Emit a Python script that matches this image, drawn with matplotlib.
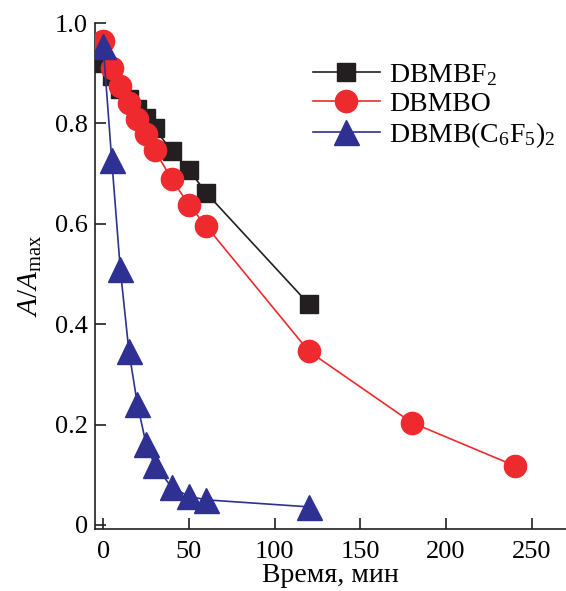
import matplotlib.pyplot as plt

plt.rcParams['font.family'] = ['Liberation Serif', 'DejaVu Serif']
plt.rcParams['mathtext.fontset'] = 'custom'
plt.rcParams['mathtext.rm'] = 'Liberation Serif'
plt.rcParams['mathtext.it'] = 'Liberation Serif:italic'

# kinetics of photobleaching, time in minutes
t_bf2 = [0, 5, 10, 15, 20, 25, 30, 40, 50, 60, 120]
a_bf2 = [0.92, 0.895, 0.868, 0.848, 0.828, 0.81, 0.79, 0.745, 0.708, 0.662, 0.44]

t_bo = [0, 5, 10, 15, 20, 25, 30, 40, 50, 60, 120, 180, 240]
a_bo = [0.964, 0.91, 0.874, 0.84, 0.808, 0.778, 0.747, 0.689, 0.638, 0.596, 0.346, 0.204, 0.118]

t_c6f5 = [0, 5, 10, 15, 20, 25, 30, 40, 50, 60, 120]
a_c6f5 = [0.955, 0.728, 0.51, 0.347, 0.24, 0.162, 0.12, 0.075, 0.057, 0.05, 0.036]

labels = ['DBMBF$_2$', 'DBMBO', 'DBMB(C$_6$F$_5$)$_2$']

fig = plt.figure(figsize=(5.66, 5.91), dpi=100)
ax = fig.add_axes([0.168, 0.105, 0.832, 0.856])

ax.plot(t_bf2, a_bf2, color='#231f20', lw=1.2, marker='s', ms=13,
        label=labels[0], zorder=2)
ax.plot(t_bo, a_bo, color='#ee2a2e', lw=1.2, marker='o', ms=16,
        label=labels[1], zorder=3)
ax.plot(t_c6f5, a_c6f5, color='#2e3192', lw=1.2, marker='^', ms=18,
        label=labels[2], zorder=4)

ax.set_xlim(-4.7, 270)
ax.set_ylim(-0.008, 1.0)
ax.set_xticks([0, 50, 100, 150, 200, 250])
ax.set_yticks([0, 0.2, 0.4, 0.6, 0.8, 1.0])
ax.set_yticklabels(['0', '0.2', '0.4', '0.6', '0.8', '1.0'])
ax.tick_params(direction='in', length=8, width=1.2, labelsize=19, color='#231f20')
ax.tick_params(axis='x', pad=9)
ax.tick_params(axis='y', pad=5)

ax.spines['top'].set_visible(False)
ax.spines['right'].set_visible(False)
for s in ('left', 'bottom'):
    ax.spines[s].set_linewidth(1.2)
    ax.spines[s].set_color('#231f20')

ax.set_xlabel('Время, мин', fontsize=20, labelpad=0)
ax.set_ylabel('$A/A_{\\mathrm{max}}$', fontsize=21, labelpad=8)

ax.legend(loc='upper left', bbox_to_anchor=(0.553, 0.895),
          bbox_transform=fig.transFigure, frameon=False,
          fontsize=20, handlelength=2.4, handletextpad=0.35,
          labelspacing=0.12, borderaxespad=0, borderpad=0)

fig.savefig('out.png', dpi=100)
